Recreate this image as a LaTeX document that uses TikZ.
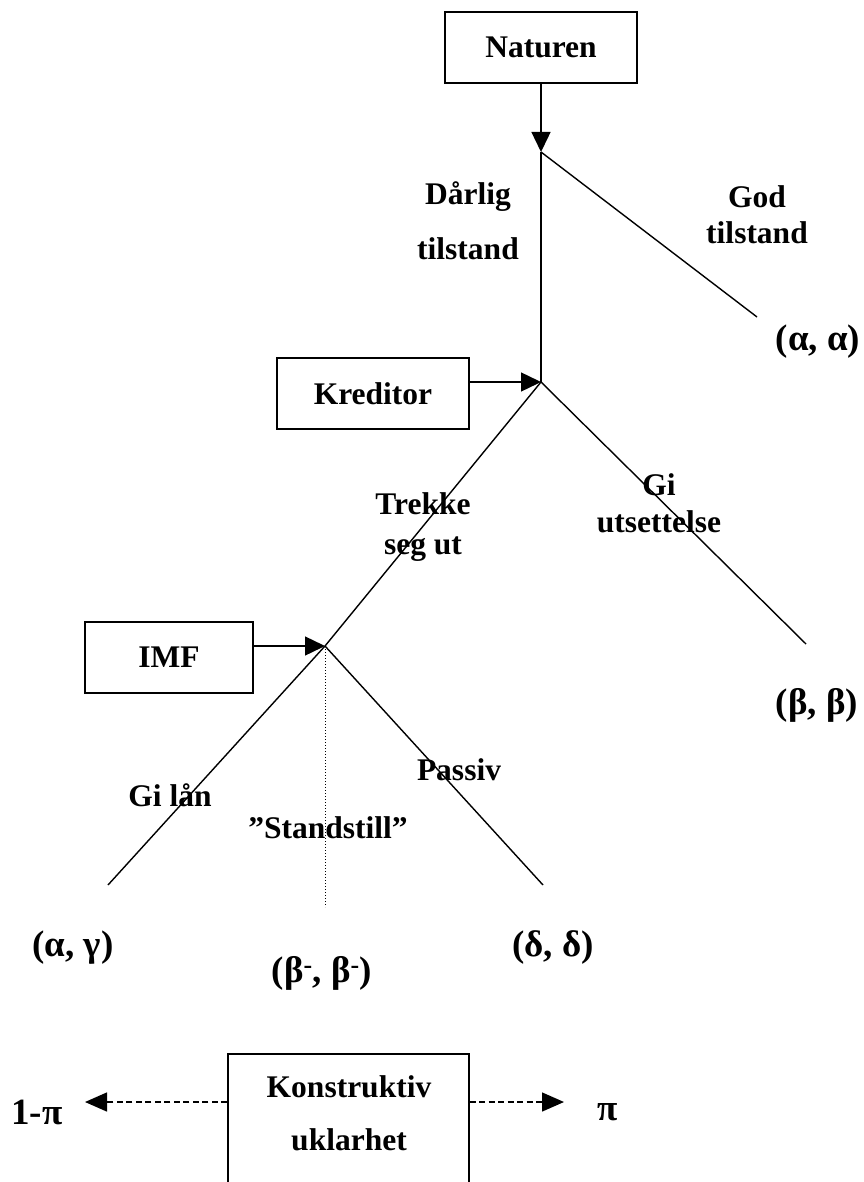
\documentclass[tikz,border=0pt]{standalone}
\usepackage{fontspec}
\setmainfont{Liberation Serif}
\usetikzlibrary{arrows.meta}
\tikzset{
  lbl/.style={font=\fontsize{31.5}{36}\selectfont\bfseries, inner sep=0pt, align=center},
  greek/.style={font=\fontsize{37}{42}\selectfont\bfseries, inner sep=0pt, align=center},
  box/.style={draw, line width=1.4pt, minimum width=192pt, minimum height=71pt, inner sep=0pt, font=\fontsize{31.5}{36}\selectfont\bfseries},
  branch/.style={line width=1.4pt},
  solidarrow/.style={line width=1.4pt, -{Triangle[length=20pt,width=19pt]}},
  dasharrow/.style={line width=1.4pt, dash pattern=on 6pt off 3.5pt, -{Triangle[length=22pt,width=19pt]}},
  dotline/.style={line width=1pt, dotted},
}
\begin{document}
\begin{tikzpicture}[x=1pt,y=-1pt]
\path[use as bounding box] (0,0) rectangle (863,1182);
\clip (0,0) rectangle (863,1182);
% boxes
\node[box] (naturen) at (541,47.5) {Naturen};
\node[box] (kreditor) at (373,393.5) {Kreditor};
\node[box, minimum width=168pt] (imf) at (169,657.5) {IMF};
\node[box, minimum width=241pt, minimum height=160pt] (konstr) at (348.5,1134) {};
% decision points and ends
\coordinate (n1) at (541,152);
\coordinate (n2) at (541,382);
\coordinate (n3) at (325,646);
\coordinate (goodend) at (757,317);
\coordinate (utsend) at (806,644);
\coordinate (lanend) at (108,885);
\coordinate (stillend) at (325,907);
\coordinate (pasend) at (543,885);
\coordinate (ltip) at (85,1102);
\coordinate (rtip) at (564,1102);
% connectors
\draw[solidarrow] (naturen.south) -- (n1);
\draw[branch] (n1) -- (goodend);
\draw[branch] (n1) -- (n2);
\draw[solidarrow] (kreditor.east |- n2) -- (n2);
\draw[branch] (n2) -- (n3);
\draw[branch] (n2) -- (utsend);
\draw[solidarrow] (imf.east |- n3) -- (n3);
\draw[branch] (n3) -- (lanend);
\draw[dotline] (n3) -- (stillend);
\draw[branch] (n3) -- (pasend);
\draw[dasharrow] (konstr.west |- ltip) -- (ltip);
\draw[dasharrow] (konstr.east |- rtip) -- (rtip);
% labels
\node[lbl] (ldarlig) at (468,221) {Dårlig\\[19pt]tilstand};
\node[lbl] (lgod) at (757,215) {God\\tilstand};
\node[greek] (paa) at (818,342) {(α, α)};
\node[lbl] (ltrekke) at (423,527) {Trekke\\[4pt]seg ut};
\node[lbl] (lgi) at (659,503) {Gi\\[1pt]utsettelse};
\node[greek] (pbb) at (817,705) {(β, β)};
\node[lbl] (lgilan) at (170,795) {Gi lån};
\node[lbl] (lpassiv) at (459,770) {Passiv};
\node[lbl] (lstill) at (328,828) {”Standstill”};
\node[greek] (pag) at (73,948) {(α, γ)};
\node[greek] (pbm) at (322,973) {(β\textsuperscript{-}, β\textsuperscript{-})};
\node[greek] (pdd) at (553,948) {(δ, δ)};
\node[greek] (lpi1) at (37,1112) {1-π};
\node[greek] (lpi) at (608,1112) {π};
\node[lbl] (lkonstr) at (349,1113) {Konstruktiv\\[17pt]uklarhet};
\end{tikzpicture}
\end{document}
